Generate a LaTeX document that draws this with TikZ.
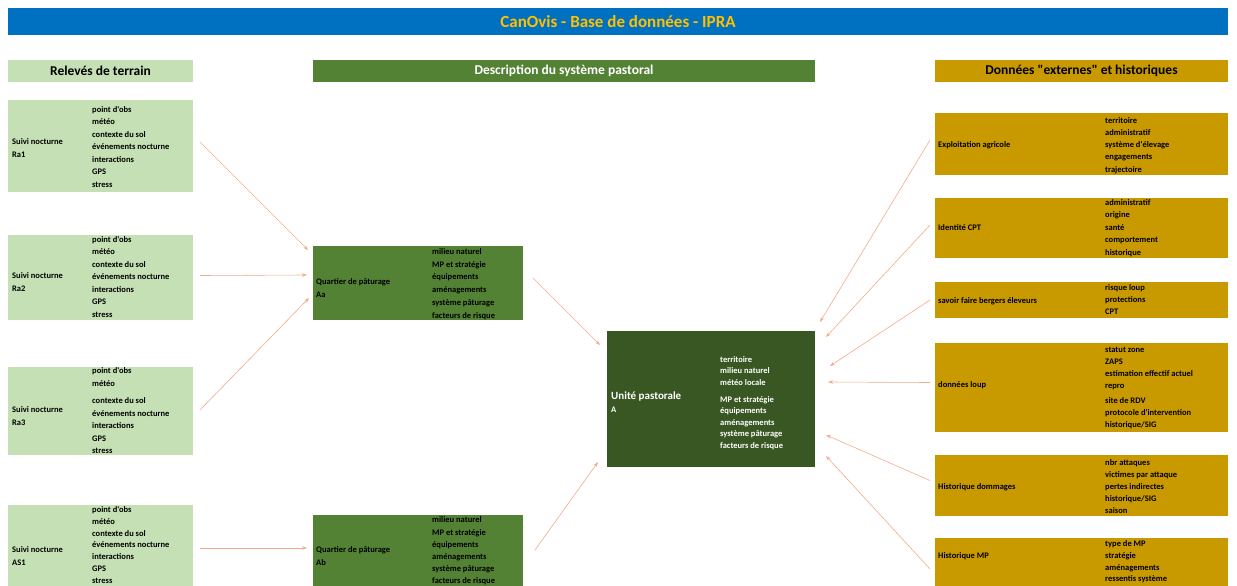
\documentclass[tikz,border=0pt]{standalone}
\usepackage{fontspec}
\setmainfont{Carlito}[Ligatures=TeXOff]
\usetikzlibrary{calc,arrows.meta}
\definecolor{banner}{HTML}{0070C0}
\definecolor{titlecol}{HTML}{FFC000}
\definecolor{lgreen}{HTML}{C5E0B4}
\definecolor{mgreen}{HTML}{548235}
\definecolor{dgreen}{HTML}{385723}
\definecolor{gold}{HTML}{C99A00}
\definecolor{arrcol}{HTML}{F4A98A}
\begin{document}
\begin{tikzpicture}[x=1pt,y=-1pt,
  box/.style={anchor=north west, inner sep=0pt, outer sep=0pt, draw=none},
  lbox/.style={box, fill=lgreen},
  mbox/.style={box, fill=mgreen},
  cbox/.style={box, fill=dgreen},
  gbox/.style={box, fill=gold},
  txt/.style={anchor=west, align=left, inner sep=0pt, font=\fontsize{8.5}{12.5}\selectfont\bfseries},
  wtxt/.style={txt, text=white},
  head/.style={box},
  headtxt/.style={font=\fontsize{13.5}{15}\selectfont\bfseries, inner sep=0pt},
  arr/.style={draw=arrcol, line width=0.6pt, -{Stealth[length=5pt,width=3.5pt]}}
]
\useasboundingbox (0,0) rectangle (1237,586);
\clip (0,0) rectangle (1237,586);
% banner
\node[box, fill=banner, minimum width=1220pt, minimum height=27pt] (ban) at (8,8) {};
\node[font=\fontsize{17}{19}\selectfont\bfseries, text=titlecol, inner sep=0pt] (title) at (ban.center) {CanOvis - Base de données - IPRA};
% headers
\node[head, fill=lgreen, minimum width=185pt, minimum height=22pt] (h1) at (8,60) {};
\node[headtxt] (h1t) at (h1.center) {Relevés de terrain};
\node[head, fill=mgreen, minimum width=502pt, minimum height=22pt] (h2) at (313,60) {};
\node[headtxt, text=white] (h2t) at (h2.center) {Description du système pastoral};
\node[head, fill=gold, minimum width=293pt, minimum height=22pt] (h3) at (935,60) {};
\node[headtxt] (h3t) at (h3.center) {Données "externes" et historiques};

% left boxes
\node[lbox, minimum width=185pt, minimum height=92pt] (r1) at (8,100) {};
\node[txt] (r1l) at (12,148) {Suivi nocturne\\Ra1};
\node[txt] (r1i) at (92,147) {point d'obs\\météo\\contexte du sol\\événements nocturne\\interactions\\GPS\\stress};

\node[lbox, minimum width=185pt, minimum height=85pt] (r2) at (8,235) {};
\node[txt] (r2l) at (12,282) {Suivi nocturne\\Ra2};
\node[txt] (r2i) at (92,277) {point d'obs\\météo\\contexte du sol\\événements nocturne\\interactions\\GPS\\stress};

\node[lbox, minimum width=185pt, minimum height=88pt] (r3) at (8,367) {};
\node[txt] (r3l) at (12,416) {Suivi nocturne\\Ra3};
\node[txt] (r3i) at (92,411) {point d'obs\\météo\\[5pt]contexte du sol\\événements nocturne\\interactions\\GPS\\stress};

\node[lbox, minimum width=185pt, minimum height=92pt] (r4) at (8,505) {};
\node[txt] (r4l) at (12,556) {Suivi nocturne\\AS1};
\node[txt, font=\fontsize{8.5}{11.7}\selectfont\bfseries] (r4i) at (92,545) {point d'obs\\météo\\contexte du sol\\événements nocturne\\interactions\\GPS\\stress};

% middle boxes
\node[mbox, minimum width=210pt, minimum height=74pt] (q1) at (313,246) {};
\node[txt] (q1l) at (316,288) {Quartier de pâturage\\Aa};
\node[txt, font=\fontsize{8.5}{12.8}\selectfont\bfseries] (q1i) at (432,284) {milieu naturel\\MP et stratégie\\équipements\\aménagements\\système pâturage\\facteurs de risque};

\node[mbox, minimum width=210pt, minimum height=76pt] (q2) at (313,515) {};
\node[txt] (q2l) at (316,556) {Quartier de pâturage\\Ab};
\node[txt, font=\fontsize{8.5}{12.2}\selectfont\bfseries] (q2i) at (432,551) {milieu naturel\\MP et stratégie\\équipements\\aménagements\\système pâturage\\facteurs de risque};

% center box
\node[cbox, minimum width=208pt, minimum height=136pt] (c) at (607,331) {};
\node[wtxt, font=\fontsize{11}{13}\selectfont\bfseries] (cl) at (611,402) {Unité pastorale\\\fontsize{8.5}{10}\selectfont A};
\node[wtxt, font=\fontsize{8.5}{11.6}\selectfont\bfseries] (ci) at (720,403) {territoire\\milieu naturel\\météo locale\\[5pt]MP et stratégie\\équipements\\aménagements\\système pâturage\\facteurs de risque};

% right boxes
\node[gbox, minimum width=293pt, minimum height=62pt] (e1) at (935,113) {};
\node[txt] (e1l) at (938,145) {Exploitation agricole};
\node[txt, font=\fontsize{8.5}{12.2}\selectfont\bfseries] (e1i) at (1105,145.5) {territoire\\administratif\\système d'élevage\\engagements\\trajectoire};

\node[gbox, minimum width=293pt, minimum height=60pt] (e2) at (935,198) {};
\node[txt] (e2l) at (938,228) {Identité CPT};
\node[txt] (e2i) at (1105,228) {administratif\\origine\\santé\\comportement\\historique};

\node[gbox, minimum width=293pt, minimum height=36pt] (e3) at (935,282) {};
\node[txt] (e3l) at (938,301) {savoir faire bergers éleveurs};
\node[txt, font=\fontsize{8.5}{12}\selectfont\bfseries] (e3i) at (1105,300) {risque loup\\protections\\CPT};

\node[gbox, minimum width=293pt, minimum height=89pt] (e4) at (935,343) {};
\node[txt] (e4l) at (938,385) {données loup};
\node[txt, font=\fontsize{8.5}{12}\selectfont\bfseries] (e4i) at (1105,387.5) {statut zone\\ZAPS\\estimation effectif actuel\\repro\\[3pt]site de RDV\\protocole d'intervention\\historique/SIG};

\node[gbox, minimum width=293pt, minimum height=61pt] (e5) at (935,455) {};
\node[txt] (e5l) at (938,487) {Historique dommages};
\node[txt, font=\fontsize{8.5}{11.8}\selectfont\bfseries] (e5i) at (1105,486.5) {nbr attaques\\victimes par attaque\\pertes indirectes\\historique/SIG\\saison};

\node[gbox, minimum width=293pt, minimum height=62pt] (e6) at (935,538) {};
\node[txt] (e6l) at (938,556) {Historique MP};
\node[txt, font=\fontsize{8.5}{11.7}\selectfont\bfseries] (e6i) at (1105,562) {type de MP\\stratégie\\aménagements\\ressentis système};

% arrows left -> middle
\draw[arr] ($(r1.east)+(7,-4)$) -- ($(q1.north west)+(-5,4)$);
\draw[arr] ($(r2.east)+(7,-2)$) -- ($(q1.west)+(-6,-8)$);
\draw[arr] ($(r3.east)+(7,-1)$) -- ($(q1.west)+(-4,15)$);
\draw[arr] ($(r4.east)+(7,-3)$) -- ($(q2.west)+(-6,-5)$);
% middle -> center
\draw[arr] ($(q1.east)+(10,-5)$) -- ($(c.north west)+(-7,14)$);
\draw[arr] ($(q2.east)+(12,-3)$) -- ($(c.south west)+(-9,-5)$);
% right -> center
\draw[arr] ($(e1.west)+(-5,-4)$) -- ($(c.north east)+(5,-9)$);
\draw[arr] ($(e2.west)+(-5,-3)$) -- ($(c.north east)+(11,6)$);
\draw[arr] ($(e3.west)+(-5,0)$) -- ($(c.north east)+(15,35)$);
\draw[arr] ($(e4.west)+(-5,-5)$) -- ($(c.north east)+(13,51)$);
\draw[arr] ($(e5.west)+(-5,-5)$) -- ($(c.south east)+(11,-32)$);
\draw[arr] ($(e6.west)+(-5,0)$) -- ($(c.south east)+(11,-11)$);
\end{tikzpicture}
\end{document}
